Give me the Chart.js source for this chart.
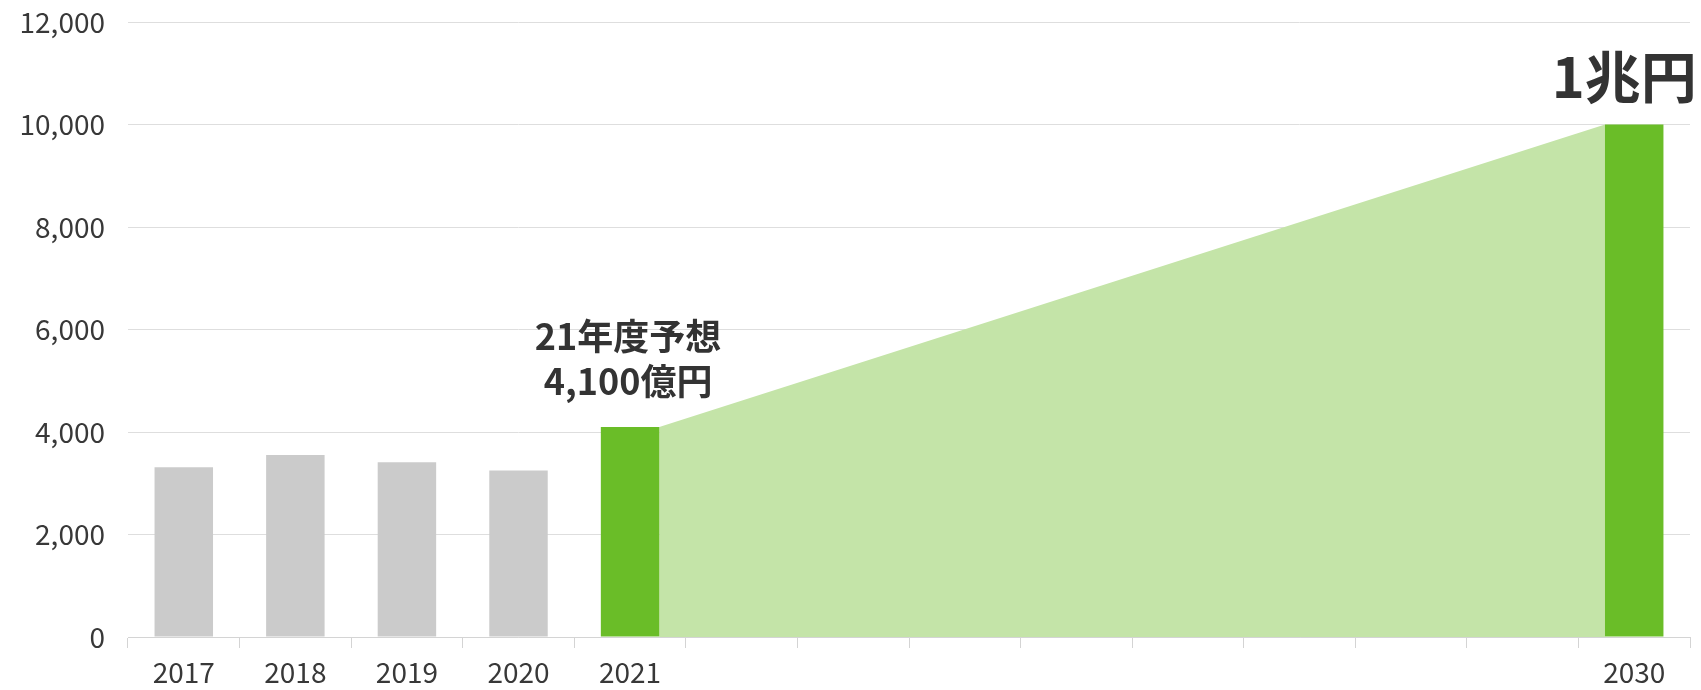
<!DOCTYPE html>
<html>
<head>
<meta charset="utf-8">
<script src="https://cdn.jsdelivr.net/npm/chart.js@4.4.0/dist/chart.umd.min.js"></script>
<style>
  html, body { margin: 0; padding: 0; background: #ffffff; }
  #wrap { width: 1701px; height: 690px; }
</style>
</head>
<body>
<div id="wrap"><canvas id="c" width="1701" height="690"></canvas></div>
<script>
const categories = ['2017','2018','2019','2020','2021','2022','2023','2024','2025','2026','2027','2028','2029','2030'];
const tickLabels = ['2017','2018','2019','2020','2021','','','','','','','','','2030'];
const values = [3310, 3550, 3410, 3250, 4100, null, null, null, null, null, null, null, null, 10000];
const barColors = ['#cbcbcb','#cbcbcb','#cbcbcb','#cbcbcb','#6abd28','#6abd28','#6abd28','#6abd28','#6abd28','#6abd28','#6abd28','#6abd28','#6abd28','#6abd28'];
const forecastLabel = ['21年度予想', '4,100億円'];
const targetLabel = '1兆円';
const forecastIndex = 4;
const targetIndex = 13;

const FONT = '"Noto Sans CJK JP", "Noto Sans", sans-serif';

const areaPlugin = {
  id: 'growthArea',
  beforeDatasetsDraw(chart) {
    const meta = chart.getDatasetMeta(0);
    const a = meta.data[forecastIndex], b = meta.data[targetIndex];
    if (!a || !b) return;
    const base = chart.scales.y.getPixelForValue(0);
    const ctx = chart.ctx;
    ctx.save();
    ctx.fillStyle = '#c4e4a8';
    ctx.beginPath();
    ctx.moveTo(a.x + a.width / 2, base);
    ctx.lineTo(a.x + a.width / 2, a.y);
    ctx.lineTo(b.x - b.width / 2, b.y);
    ctx.lineTo(b.x - b.width / 2, base);
    ctx.closePath();
    ctx.fill();
    ctx.restore();
  },
  afterDatasetsDraw(chart) {
    const meta = chart.getDatasetMeta(0);
    const a = meta.data[forecastIndex], b = meta.data[targetIndex];
    const ctx = chart.ctx;
    ctx.save();
    ctx.fillStyle = '#333333';
    ctx.textAlign = 'center';
    ctx.textBaseline = 'middle';
    ctx.font = 'bold 36px ' + FONT;
    ctx.fillText(forecastLabel[0], a.x - 2, a.y - 91);
    ctx.fillText(forecastLabel[1], a.x - 2, a.y - 46);
    ctx.font = 'bold 56px ' + FONT;
    ctx.fillText(targetLabel, b.x - 10, b.y - 48);
    ctx.restore();
  }
};

new Chart(document.getElementById('c'), {
  type: 'bar',
  data: {
    labels: categories,
    datasets: [{
      data: values,
      backgroundColor: barColors,
      borderWidth: 0,
      barPercentage: 0.524,
      categoryPercentage: 1.0
    }]
  },
  options: {
    responsive: false,
    animation: false,
    devicePixelRatio: 1,
    layout: { padding: { top: 22, right: 11, bottom: 0, left: 0 } },
    plugins: { legend: { display: false }, tooltip: { enabled: false } },
    scales: {
      x: {
        offset: true,
        afterFit: s => { s.height = 53; },
        grid: { display: true, drawOnChartArea: false, drawTicks: true, tickLength: 11, color: '#d4d4d4', offset: true },
        border: { display: true, color: '#d4d4d4', width: 1 },
        ticks: {
          color: '#383838',
          font: { family: FONT, size: 28 },
          padding: 8,
          maxRotation: 0,
          autoSkip: false,
          callback: (v, i) => tickLabels[i]
        }
      },
      y: {
        min: 0,
        max: 12000,
        afterFit: s => { s.width = 128; s.paddingTop = 0; s.paddingBottom = 0; },
        ticks: {
          stepSize: 2000,
          color: '#383838',
          font: { family: FONT, size: 28 },
          padding: 23,
          callback: v => v.toLocaleString('en-US')
        },
        grid: { color: '#dedede', drawTicks: false },
        border: { display: false }
      }
    }
  },
  plugins: [areaPlugin]
});
</script>
</body>
</html>
